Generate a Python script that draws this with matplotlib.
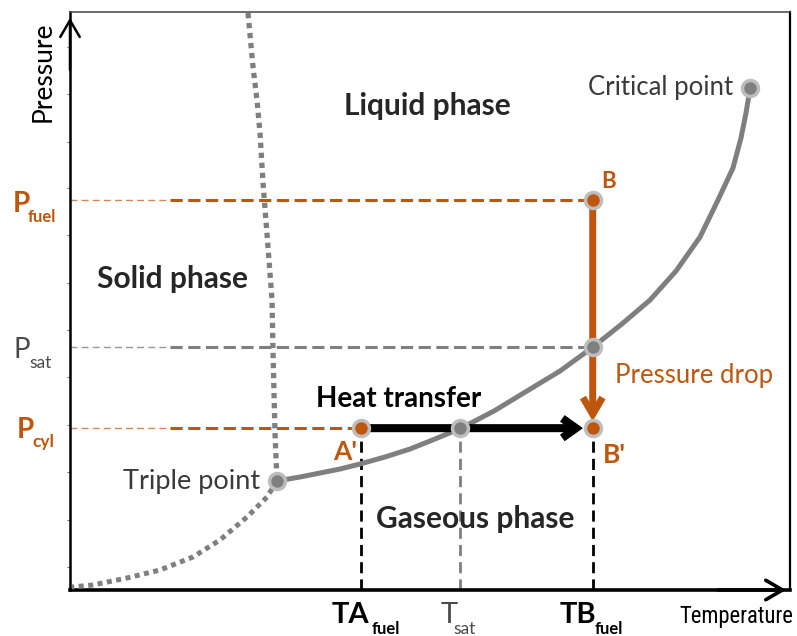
import matplotlib
matplotlib.use("Agg")
import matplotlib.pyplot as plt
from matplotlib.transforms import offset_copy

plt.rcParams['font.family'] = ['Lato', 'DejaVu Sans']

# ---------------- data (schematic units: T and P in 0..100) ----------------
# liquid-vapour saturation curve (triple point -> critical point)
sat_T = [28.75, 31.94, 34.72, 37.50, 40.28, 43.75, 47.22, 50.69, 54.31, 58.89,
         63.47, 68.06, 72.64, 76.81, 80.56, 84.17, 87.50, 90.00, 92.08, 93.19,
         93.89, 94.31, 94.44]
sat_P = [18.86, 19.55, 20.24, 20.93, 21.80, 23.01, 24.39, 26.12, 27.99, 30.97,
         34.43, 37.89, 42.04, 46.19, 50.17, 55.19, 61.07, 67.47, 73.01, 78.20,
         82.53, 85.64, 86.85]
# solid-liquid (melting) curve
melt_T = [24.72, 25.42, 25.97, 26.39, 26.81, 27.50, 28.06, 28.19, 28.47, 28.75]
melt_P = [99.83, 90.48, 84.78, 79.07, 70.42, 59.34, 50.17, 41.52, 27.16, 18.86]
# solid-vapour (sublimation) curve
subl_T = [28.75, 27.36, 24.58, 20.83, 17.08, 12.50, 7.92, 3.19, 0.28]
subl_P = [18.86, 16.09, 12.63, 8.65, 5.71, 3.46, 2.08, 0.87, 0.52]

triple_point = (28.75, 18.86)
critical_point = (94.44, 86.85)

T_A_fuel = 40.4
T_sat = 54.2
T_B_fuel = 72.6
P_cyl = 28.0
P_sat = 42.0
P_fuel = 67.5

pressure_ticks = [3.98, 12.1, 20.4, 28.5, 36.9, 45.0, 53.1, 61.4, 69.6, 77.5, 85.8, 93.9]

# ---------------- styling ----------------
ORANGE = '#BF560E'
GRAY = '#7F7F7F'
RING = '#BDBDBD'
DARK = '#262626'

fig = plt.figure(figsize=(7.97, 6.36), dpi=100)
ax = fig.add_axes([70 / 797, 46 / 636, 720 / 797, 578 / 636])
ax.set_xlim(0, 100)
ax.set_ylim(0, 100)

# frame
ax.spines['left'].set_linewidth(1.8)
ax.spines['bottom'].set_linewidth(2.6)
ax.spines['right'].set_linewidth(1.6)
ax.spines['top'].set_linewidth(1.1)
ax.spines['top'].set_color('#444444')
for s in ['left', 'bottom', 'right']:
    ax.spines[s].set_color('black')
ax.set_xticks([])
ax.set_yticks(pressure_ticks)
ax.set_yticklabels([])
ax.tick_params(axis='y', direction='out', length=2.0, width=0.8, color='#777777')

# axis arrows
ax.annotate('', xy=(0, 0.99), xytext=(0, 0.90), xycoords='axes fraction',
            arrowprops=dict(arrowstyle='->,head_length=0.6,head_width=0.35',
                            lw=1.8, color='black', shrinkA=0, shrinkB=0,
                            mutation_scale=20))
ax.annotate('', xy=(0.9945, 0), xytext=(0.90, 0), xycoords='axes fraction',
            arrowprops=dict(arrowstyle='->,head_length=0.6,head_width=0.35',
                            lw=2.6, color='black', shrinkA=0, shrinkB=0,
                            mutation_scale=20))

# phase boundaries
ax.plot(sat_T, sat_P, color=GRAY, lw=3.6, solid_capstyle='round',
        solid_joinstyle='round', zorder=3)
ax.plot(melt_T, melt_P, color=GRAY, lw=3.8, ls=(0, (1, 0.9)),
        dash_capstyle='butt', zorder=3)
ax.plot(subl_T, subl_P, color=GRAY, lw=3.6, ls=(0, (1, 0.9)),
        dash_capstyle='butt', zorder=3)

# guide lines
x_break = 13.9
ax.plot([0, x_break], [P_fuel, P_fuel], color=ORANGE, lw=1.0, ls=(0, (5, 3)), alpha=0.7, zorder=2)
ax.plot([x_break, T_B_fuel], [P_fuel, P_fuel], color=ORANGE, lw=2.2, ls=(0, (4, 1.8)), zorder=2)
ax.plot([0, x_break], [P_sat, P_sat], color=GRAY, lw=1.0, ls=(0, (5, 3)), alpha=0.8, zorder=2)
ax.plot([x_break, T_B_fuel], [P_sat, P_sat], color=GRAY, lw=2.2, ls=(0, (4, 1.8)), zorder=2)
ax.plot([0, x_break], [P_cyl, P_cyl], color=ORANGE, lw=1.0, ls=(0, (5, 3)), alpha=0.7, zorder=2)
ax.plot([x_break, T_A_fuel], [P_cyl, P_cyl], color=ORANGE, lw=2.2, ls=(0, (4, 1.8)), zorder=2)

ax.plot([T_A_fuel, T_A_fuel], [0, P_cyl], color='black', lw=2.0, ls=(0, (4, 2.2)), zorder=2)
ax.plot([T_sat, T_sat], [0, P_cyl], color=GRAY, lw=2.0, ls=(0, (4, 2.2)), zorder=2)
ax.plot([T_B_fuel, T_B_fuel], [0, P_cyl], color='black', lw=2.0, ls=(0, (4, 2.2)), zorder=2)

# process arrows
ax.annotate('', xy=(T_B_fuel, P_cyl), xytext=(T_A_fuel, P_cyl),
            arrowprops=dict(arrowstyle='->,head_length=0.45,head_width=0.32',
                            lw=5.8, color='black', shrinkA=0, shrinkB=7,
                            mutation_scale=22, joinstyle='miter', capstyle='butt'),
            zorder=4)
ax.annotate('', xy=(T_B_fuel, P_cyl), xytext=(T_B_fuel, P_fuel),
            arrowprops=dict(arrowstyle='->,head_length=0.55,head_width=0.32',
                            lw=5.0, color=ORANGE, shrinkA=0, shrinkB=5,
                            mutation_scale=22, joinstyle='miter', capstyle='butt'),
            zorder=4)

# points
gray_T = [triple_point[0], critical_point[0], T_sat, T_B_fuel]
gray_P = [triple_point[1], critical_point[1], P_cyl, P_sat]
ax.plot(gray_T, gray_P, ls='none', marker='o', ms=11.5, mfc=GRAY, mec=RING, mew=2.5, zorder=6)
orange_T = [T_A_fuel, T_B_fuel, T_B_fuel]
orange_P = [P_cyl, P_fuel, P_cyl]
ax.plot(orange_T, orange_P, ls='none', marker='o', ms=11.5, mfc=ORANGE, mec=RING, mew=2.5, zorder=6)


def at(x, y, dx=0, dy=0):
    """data position shifted by dx, dy pixels (dy positive = down)"""
    return dict(x=x, y=y, transform=offset_copy(ax.transData, fig=fig, x=dx, y=-dy, units='dots'))


# region labels
ax.text(s='Liquid phase', fontsize=21.5, fontweight='bold', color=DARK, ha='center', va='baseline',
        **at(49.7, 82.2))
ax.text(s='Solid phase', fontsize=21.5, fontweight='bold', color=DARK, ha='center', va='baseline',
        **at(14.2, 52.25))
ax.text(s='Gaseous phase', fontsize=21.5, fontweight='bold', color=DARK, ha='center', va='baseline',
        **at(56.25, 10.73))
ax.text(s='Heat transfer', fontsize=20, fontweight='bold', color='black', ha='center', va='baseline',
        **at(45.6, 31.66))
ax.text(s='Pressure drop', fontsize=18.5, color=ORANGE, ha='center', va='baseline',
        **at(86.7, 35.8))
ax.text(s='Critical point', fontsize=18.5, color='#3A3A3A', ha='right', va='baseline',
        **at(critical_point[0], critical_point[1], dx=-17, dy=7))
ax.text(s='Triple point', fontsize=19.5, color='#3A3A3A', ha='right', va='baseline',
        **at(triple_point[0], triple_point[1], dx=-17, dy=8))

# point labels
ax.text(s='B', fontsize=16, fontweight='bold', color=ORANGE, ha='left', va='baseline',
        **at(T_B_fuel, P_fuel, dx=9, dy=-12))
ax.text(s="A'", fontsize=19, fontweight='bold', color=ORANGE, ha='right', va='baseline',
        **at(T_A_fuel, P_cyl, dx=-4, dy=32))
ax.text(s="B'", fontsize=19, fontweight='bold', color=ORANGE, ha='left', va='baseline',
        **at(T_B_fuel, P_cyl, dx=10, dy=35))

# pressure level labels (left)
ax.text(s='P', fontsize=20, fontweight='bold', color=ORANGE, ha='left', va='baseline',
        **at(0, P_fuel, dx=-57, dy=12))
ax.text(s='fuel', fontsize=12, fontweight='bold', color=ORANGE, ha='left', va='baseline',
        **at(0, P_fuel, dx=-42, dy=22))
ax.text(s='P', fontsize=20, color='#4A4A4A', ha='left', va='baseline',
        **at(0, P_sat, dx=-56, dy=11))
ax.text(s='sat', fontsize=12.5, color='#4A4A4A', ha='left', va='baseline',
        **at(0, P_sat, dx=-41, dy=21))
ax.text(s='P', fontsize=20, fontweight='bold', color=ORANGE, ha='left', va='baseline',
        **at(0, P_cyl, dx=-53, dy=10))
ax.text(s='cyl', fontsize=12.5, fontweight='bold', color=ORANGE, ha='left', va='baseline',
        **at(0, P_cyl, dx=-38, dy=19))

# temperature labels (bottom)
ax.text(s='TA', fontsize=21, fontweight='bold', color='black', ha='left', va='baseline',
        **at(T_A_fuel, 0, dx=-29, dy=33))
ax.text(s='fuel', fontsize=12, fontweight='bold', color='black', ha='left', va='baseline',
        **at(T_A_fuel, 0, dx=11, dy=44))
ax.text(s='T', fontsize=21, color='#4A4A4A', ha='left', va='baseline',
        **at(T_sat, 0, dx=-20, dy=33))
ax.text(s='sat', fontsize=12.5, color='#4A4A4A', ha='left', va='baseline',
        **at(T_sat, 0, dx=-7, dy=44))
ax.text(s='TB', fontsize=21, fontweight='bold', color='black', ha='left', va='baseline',
        **at(T_B_fuel, 0, dx=-33, dy=33))
ax.text(s='fuel', fontsize=12, fontweight='bold', color='black', ha='left', va='baseline',
        **at(T_B_fuel, 0, dx=2, dy=44))
ax.text(s='Temperature', fontsize=16.3, color='black', ha='left', va='baseline',
        family=['Roboto Condensed', 'DejaVu Sans'],
        **at(84.7, 0, dy=33))

# axis title
ax.text(s='Pressure', fontsize=19, color='black', rotation=90, ha='center', va='center',
        **at(0, 100, dx=-27, dy=60))

fig.savefig('out.png', dpi=100)
